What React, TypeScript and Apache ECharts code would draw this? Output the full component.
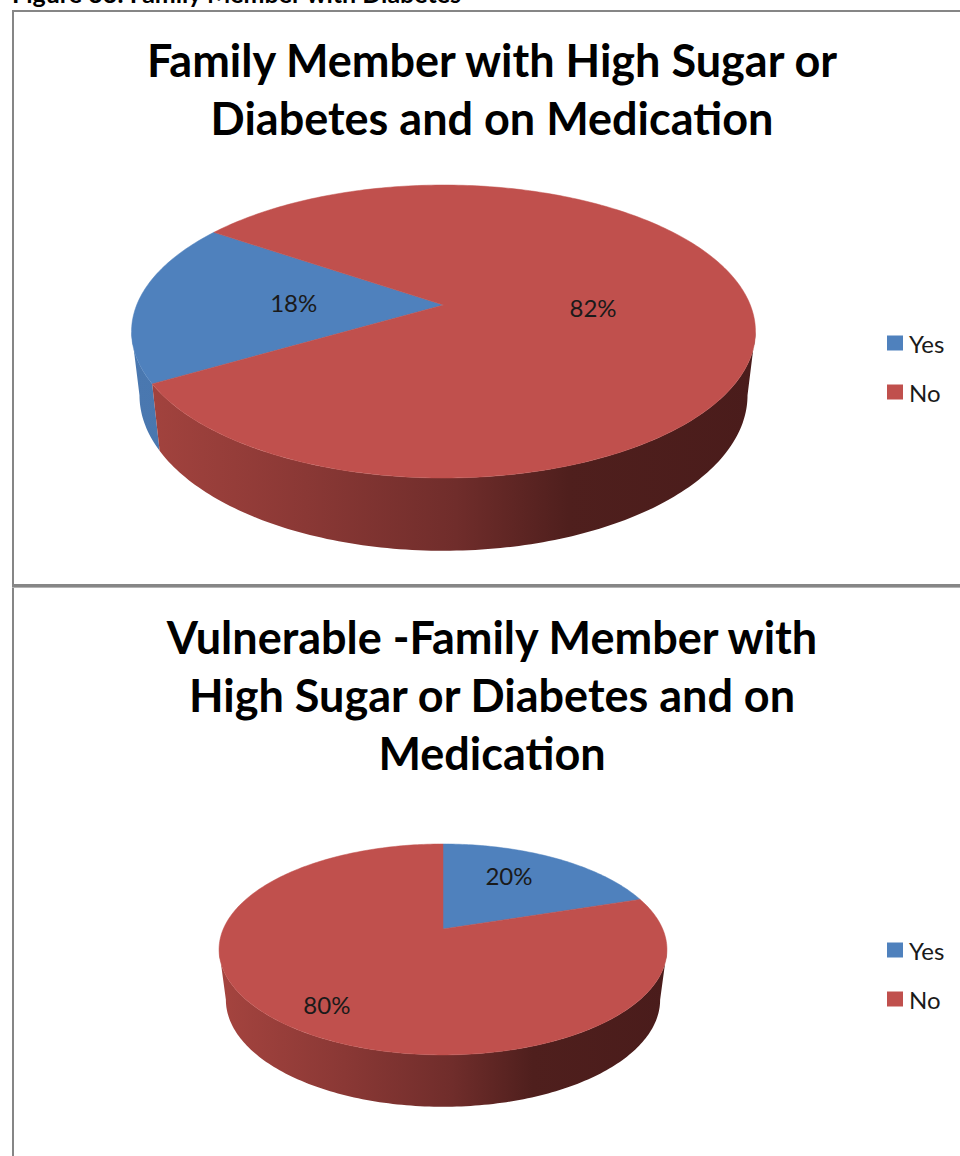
import React, { useEffect, useRef } from "react";
import * as echarts from "echarts";

const categories = ["Yes", "No"];
const valuesAll = [18, 82];
const valuesVulnerable = [20, 80];
const caption = "Figure 33: Family Member with Diabetes";
const titleAll = "Family Member with High Sugar or\nDiabetes and on Medication";
const titleVulnerable = "Vulnerable -Family Member with\nHigh Sugar or Diabetes and on\nMedication";

const sliceColors = ["#4F81BD", "#C0504D"];
const FONT = "Lato, 'Open Sans', sans-serif";

// Perspective disc: X = cx + rx*u/(1-k*v), Y = ay + ry*v/(1-k*v)
const layoutAll = {
  firstAngle: 239.6,
  labelRadius: [0.49, 0.47],
  labelOffset: [[0, 0], [5, 0]],
  top: { cx: 443.5, ay: 305, rx: 306.8, ry: 141.7, k: 0.181 },
  base: { cx: 443.5, ay: 367, rx: 299, ry: 150.5, k: 0.181 },
  wallRange: [131, 756],
};
const layoutVulnerable = {
  firstAngle: 0,
  labelRadius: [0.62, 0.8],
  labelOffset: [[-7, -7], [2, 0]],
  top: { cx: 443, ay: 929, rx: 219.7, ry: 101.5, k: 0.194 },
  base: { cx: 443, ay: 979, rx: 213, ry: 103, k: 0.194 },
  wallRange: [219, 667],
};

type Disc = { cx: number; ay: number; rx: number; ry: number; k: number };

function project(d: Disc, deg: number, r = 1): number[] {
  const t = (deg * Math.PI) / 180;
  const u = Math.sin(t) * r;
  const v = -Math.cos(t) * r;
  const w = 1 - d.k * v;
  return [d.cx + (d.rx * u) / w, d.ay + (d.ry * v) / w];
}

function arc(d: Disc, a: number, b: number): number[][] {
  const n = Math.max(2, Math.ceil(Math.abs(b - a)));
  const pts: number[][] = [];
  for (let i = 0; i <= n; i++) pts.push(project(d, a + ((b - a) * i) / n));
  return pts;
}

function wallFill(index: number, range: number[]) {
  const stops =
    index === 0
      ? [
          { offset: 0, color: "#4A78B0" },
          { offset: 1, color: "#3F6A9E" },
        ]
      : [
          { offset: 0, color: "#A5443F" },
          { offset: 0.28, color: "#8A3835" },
          { offset: 0.52, color: "#702D2B" },
          { offset: 0.7, color: "#4F1F1D" },
          { offset: 1, color: "#4A1C1B" },
        ];
  return new echarts.graphic.LinearGradient(range[0], 0, range[1], 0, stops, true);
}

function pieSeries(values: number[], layout: typeof layoutAll) {
  const total = values.reduce((s, v) => s + v, 0);
  const { top, base, firstAngle, labelRadius, labelOffset, wallRange } = layout;
  const tangent = (Math.acos(top.k) * 180) / Math.PI; // front-facing limit from 6 o'clock side
  const wallStart = 180 - tangent;
  const wallEnd = 180 + tangent;
  let cursor = firstAngle;
  return values.map((value, index) => {
    const start = cursor;
    const end = cursor + (value / total) * 360;
    cursor = end;
    return {
      type: "custom",
      name: categories[index],
      coordinateSystem: "none",
      silent: true,
      clip: false,
      itemStyle: { color: sliceColors[index] },
      data: [{ name: categories[index], value }],
      renderItem: () => {
        const children: any[] = [];
        // visible wall: intersect slice with front-facing range (check both turns)
        [-360, 0, 360].forEach((shift) => {
          const a = Math.max(start + shift, wallStart);
          const b = Math.min(end + shift, wallEnd);
          if (b > a) {
            const points = [...arc(top, a, b), ...arc(base, b, a)];
            children.push({
              type: "polygon",
              shape: { points },
              style: { fill: wallFill(index, wallRange) },
            });
          }
        });
        children.push({
          type: "polygon",
          shape: { points: [project(top, 0, 0), ...arc(top, start, end)] },
          style: { fill: sliceColors[index], stroke: sliceColors[index], lineWidth: 0.5 },
        });
        const mid = project(top, (start + end) / 2, labelRadius[index]);
        children.push({
          type: "text",
          x: mid[0] + labelOffset[index][0],
          y: mid[1] + labelOffset[index][1],
          style: {
            text: `${value}%`,
            fill: "#1a1a1a",
            font: `400 24px ${FONT}`,
            align: "center",
            verticalAlign: "middle",
          },
        });
        return { type: "group", children };
      },
    };
  });
}

function legend(top: number) {
  return {
    show: true,
    data: categories,
    orient: "vertical",
    left: 887,
    top,
    icon: "rect",
    itemWidth: 16,
    itemHeight: 15,
    itemGap: 25,
    selectedMode: false,
    textStyle: {
      fontFamily: FONT,
      fontSize: 24,
      color: "#1a1a1a",
      padding: [0, 0, 0, 1],
      lineHeight: 24,
    },
    padding: 0,
  };
}

function title(text: string, top: number) {
  return {
    text,
    left: 492,
    top,
    textAlign: "center",
    padding: 0,
    textStyle: {
      fontFamily: FONT,
      fontWeight: 700,
      fontSize: 45,
      lineHeight: 58,
      color: "#000",
    },
  };
}

export default function App() {
  const ref = useRef<HTMLDivElement>(null);
  useEffect(() => {
    if (!ref.current) return;
    const chart = echarts.init(ref.current, null, { renderer: "svg" });
    chart.setOption({
      animation: false,
      backgroundColor: "#fff",
      title: [title(titleAll, 31), title(titleVulnerable, 608)],
      legend: [legend(331), legend(938)],
      graphic: [
        { type: "rect", shape: { x: 12, y: 10, width: 948, height: 2 }, style: { fill: "#868686" } },
        { type: "rect", shape: { x: 12, y: 10, width: 2, height: 1146 }, style: { fill: "#868686" } },
        { type: "rect", shape: { x: 12, y: 584, width: 948, height: 3 }, style: { fill: "#868686" } },
        { type: "rect", shape: { x: 12, y: 587, width: 948, height: 1 }, style: { fill: "#b4b4b4" } },
        {
          type: "text",
          x: 12,
          y: -20,
          style: { text: caption, fill: "#000", font: `700 25px ${FONT}` },
        },
      ],
      series: [...pieSeries(valuesAll, layoutAll), ...pieSeries(valuesVulnerable, layoutVulnerable)],
    });
    return () => chart.dispose();
  }, []);
  return <div ref={ref} style={{ width: 960, height: 1156, position: "absolute", left: 0, top: 0 }} />;
}
